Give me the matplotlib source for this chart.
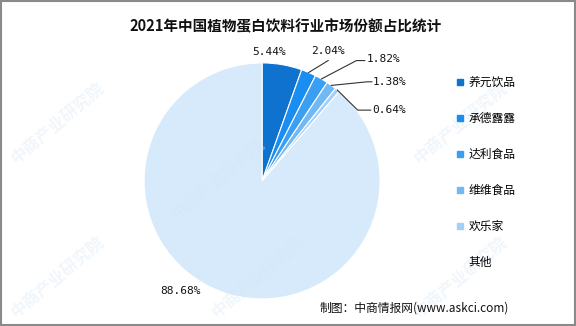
import matplotlib.pyplot as plt
import numpy as np
from matplotlib.lines import Line2D

plt.rcParams['font.family'] = ['Noto Sans CJK SC', 'DejaVu Sans']

companies = ['养元饮品', '承德露露', '达利食品', '维维食品', '欢乐家', '其他']
shares = [5.44, 2.04, 1.82, 1.38, 0.64, 88.68]
colors = ['#0f72cf', '#1a8ef0', '#3a9ff3', '#71b9f5', '#a3d0f8', '#d6eafb']
legend_colors = ['#0f72cf', '#1a8ef0', '#3a9ff3', '#71b9f5', '#a3d0f8', '#ffffff']
# label text position (in pie radius units) and leader line points
label_pos = [(0.06, 1.09), (0.56, 1.10), (1.03, 1.03), (1.08, 0.84), (1.08, 0.60), (-0.69, -0.93)]
leader_pts = [None,
              [(0.56, 1.02)],
              [(0.80, 1.02), (0.87, 1.02)],
              [(0.89, 0.84), (0.93, 0.84)],
              [(0.81, 0.60), (0.92, 0.60)],
              None]

fig = plt.figure(figsize=(5.76, 3.26), dpi=100)
fig.patch.set_facecolor('white')

# faint watermark
for (wx, wy) in [(0.10, 0.62), (0.38, 0.45), (0.80, 0.62), (0.10, 0.15), (0.45, 0.15), (0.80, 0.15)]:
    fig.text(wx, wy, '中商产业研究院', fontsize=12, color='#d4e6f5', alpha=0.35,
             rotation=40, fontweight='bold', zorder=0, ha='center', va='center')

ax = fig.add_axes([0.25, 0.083, 0.41, 0.724])
wedges, _ = ax.pie(shares, colors=colors, startangle=90, counterclock=False,
                   wedgeprops=dict(edgecolor='white', linewidth=0.8))
ax.set_xlim(-1, 1)
ax.set_ylim(-1, 1)
ax.set_aspect('equal')

for w, val, tp, pts in zip(wedges, shares, label_pos, leader_pts):
    ang = np.deg2rad((w.theta1 + w.theta2) / 2)
    edge = (np.cos(ang), np.sin(ang))
    if pts is not None:
        xs = [edge[0]] + [p[0] for p in pts]
        ys = [edge[1]] + [p[1] for p in pts]
        ax.plot(xs, ys, color='#333333', lw=0.8, clip_on=False)
    ax.text(tp[0], tp[1], f'{val:.2f}%', ha='center', va='center', fontsize=8,
            family='DejaVu Sans Mono', color='#111111')

handles = [Line2D([0], [0], marker='s', linestyle='', markersize=5,
                  markerfacecolor=c, markeredgecolor=c) for c in legend_colors]
fig.legend(handles, companies, loc='upper left', bbox_to_anchor=(0.772, 0.8),
           frameon=False, fontsize=8.5, labelspacing=1.95, handlelength=0.8,
           handletextpad=0.3)

fig.text(0.495, 0.918, '2021年中国植物蛋白饮料行业市场份额占比统计', ha='center', va='center',
         fontsize=10.5, fontweight='bold', color='#111111')
fig.text(0.555, 0.055, '制图：中商情报网(www.askci.com)', ha='left', va='center',
         fontsize=8.5, color='#111111')

# outer frame
frame = plt.Rectangle((0.002, 0.003), 0.996, 0.994, transform=fig.transFigure,
                      fill=False, edgecolor='#8a8a8a', linewidth=1.5)
fig.patches.append(frame)

fig.savefig('out.png', dpi=100)
